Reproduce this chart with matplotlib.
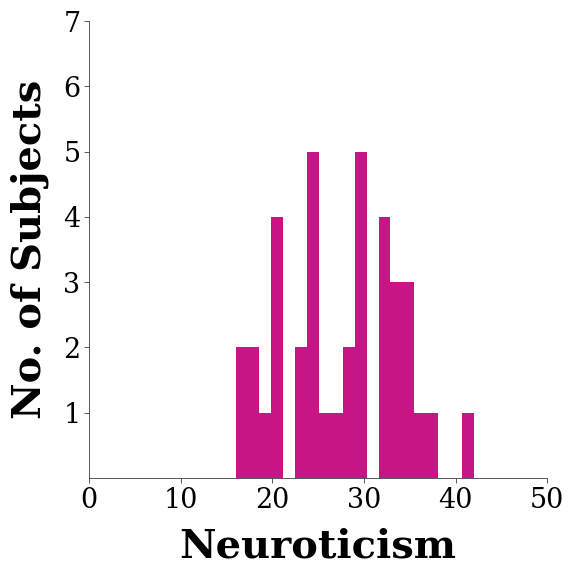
import matplotlib
matplotlib.use('Agg')
import matplotlib.pyplot as plt
import numpy as np

# Histogramme des scores de neuroticisme (20 classes entre 16 et 42)
bin_lo = 16
bin_hi = 42
n_bins = 20
counts = [2, 2, 1, 4, 0, 2, 5, 1, 1, 2, 5, 0, 4, 3, 3, 1, 1, 0, 0, 1]
yticks = [1, 2, 3, 4, 5, 6, 7]
xticks = [0, 10, 20, 30, 40, 50]

edges = np.linspace(bin_lo, bin_hi, n_bins + 1)

plt.rcParams['font.family'] = 'DejaVu Serif'

fig = plt.figure(figsize=(8, 8), dpi=72)
ax = fig.add_axes([0.1545, 0.1701, 0.7955, 0.7934])
ax.hist(edges[:-1], bins=edges, weights=counts, color='mediumvioletred')

ax.set_xlim(0, 50)
ax.set_ylim(0, 7)
ax.set_xticks(xticks)
ax.set_yticks(yticks)
ax.tick_params(labelsize=27, colors='#333333', labelcolor='black', length=5)
for s in ['top', 'right']:
    ax.spines[s].set_visible(False)
for s in ['left', 'bottom']:
    ax.spines[s].set_color('#333333')

ax.set_xlabel('Neuroticism', fontsize=40, fontweight='bold', labelpad=14)
ax.set_ylabel('No. of Subjects', fontsize=40, fontweight='bold', labelpad=14)

fig.savefig('out.png', dpi=72)
